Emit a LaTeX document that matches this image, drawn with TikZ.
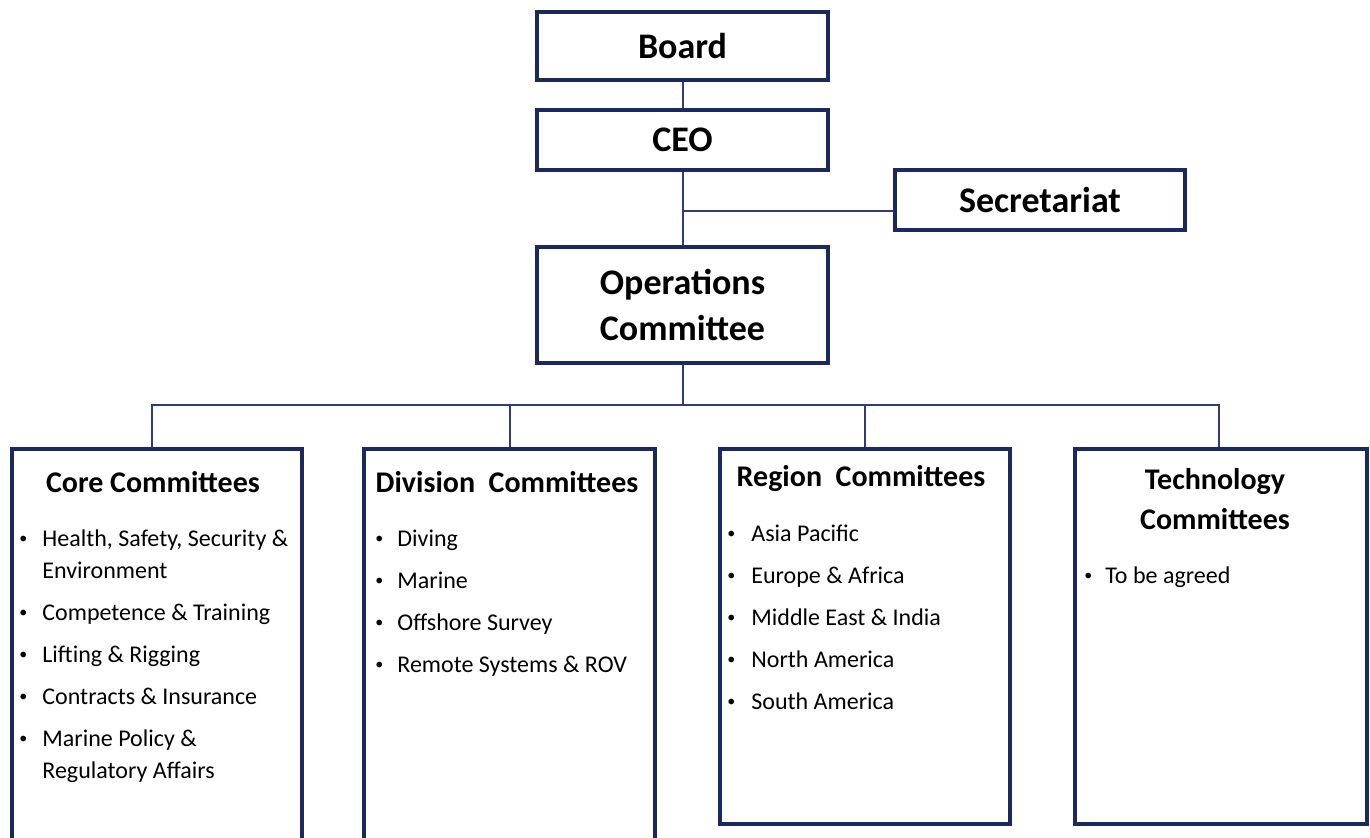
\documentclass[tikz,border=0pt]{standalone}
\usepackage{fontspec}
\setmainfont{Carlito}
\usetikzlibrary{positioning,shadows}
\definecolor{navy}{HTML}{1B2A5E}
\definecolor{wire}{HTML}{2E3E72}
\newcommand{\bul}{\raisebox{1.5pt}{\fontsize{8}{8}\selectfont•}}
\tikzset{
  box/.style={
    rectangle,
    draw=navy,
    line width=2pt,
    fill=white,
    drop shadow={shadow xshift=0.8pt, shadow yshift=-0.8pt, opacity=0.25, fill=black},
    align=center,
    inner sep=0pt
  },
  headbox/.style={
    box,
    minimum width=145.5pt,
    minimum height=30pt,
    font=\bfseries\fontsize{18}{23}\selectfont
  },
  panel/.style={
    box,
    anchor=north west,
    minimum width=145pt
  },
  paneltitle/.style={
    font=\bfseries\fontsize{15}{20}\selectfont,
    align=center,
    inner sep=0pt
  },
  itemlist/.style={
    font=\fontsize{12}{16}\selectfont,
    anchor=base west,
    inner sep=0pt
  },
  link/.style={
    draw=wire,
    line width=1pt
  }
}

\begin{document}
\begin{tikzpicture}[x=0.5pt,y=-0.5pt]
  \clip (0,0) rectangle (1370,837);

  % top of the chart
  \node[headbox, minimum height=34pt] (board) at (682.5,46) {Board};
  \node[headbox] (ceo) at (682.5,140) {CEO};
  \node[headbox, minimum width=145pt] (secretariat) at (1040,200) {Secretariat};
  \node[headbox, minimum height=58pt] (ops) at (682.5,305) {Operations\\Committee};

  \draw[link] (board.south) -- (ceo.north);
  \draw[link] (ceo.south) -- (ops.north);
  \coordinate (sec-in) at ([yshift=-5.5pt]secretariat.west);
  \draw[link] (sec-in) -- (sec-in -| ceo.south);

  % committee panels
  \node[panel, minimum height=210pt] (core) at (10,447) {};
  \node[panel, minimum height=210pt, minimum width=145.5pt] (division) at (362,447) {};
  \node[panel, minimum height=187.5pt] (region) at (718,447) {};
  \node[panel, minimum height=187.5pt, minimum width=146pt] (tech) at (1073,447) {};

  \coordinate (split) at (684,405);
  \draw[link] (ops.south) -- (ops.south |- split);
  \draw[link] ([xshift=-2.5pt]core.north) |- (split) -| ([xshift=-1pt]tech.north);
  \draw[link] (division.north) -- (division.north |- split);
  \draw[link] (region.north) -- (region.north |- split);

  \node[paneltitle, anchor=base] (core-title) at (153,492) {Core Committees};
  \node[paneltitle, anchor=base] (division-title) at (507,492) {Division\ \ Committees};
  \node[paneltitle, anchor=base] (region-title) at (861,486) {Region\ \ Committees};
  \node[paneltitle] (tech-title) at (1215,499) {Technology\\Committees};

  \node[itemlist] (core-list) at (19,546) {\begin{tabular}[t]{@{}p{11.5pt}@{}l@{}}
    \bul & Health, Safety, Security \&\\
         & Environment\\[5pt]
    \bul & Competence \& Training\\[5pt]
    \bul & Lifting \& Rigging\\[5pt]
    \bul & Contracts \& Insurance\\[5pt]
    \bul & Marine Policy \&\\
         & Regulatory Affairs
  \end{tabular}};

  \node[itemlist] (division-list) at (375,546) {\begin{tabular}[t]{@{}p{11pt}@{}l@{}}
    \bul & Diving\\[5pt]
    \bul & Marine\\[5pt]
    \bul & Offshore Survey\\[5pt]
    \bul & Remote Systems \& ROV
  \end{tabular}};

  \node[itemlist] (region-list) at (727,541) {\begin{tabular}[t]{@{}p{12pt}@{}l@{}}
    \bul & Asia Pacific\\[5pt]
    \bul & Europe \& Africa\\[5pt]
    \bul & Middle East \& India\\[5pt]
    \bul & North America\\[5pt]
    \bul & South America
  \end{tabular}};

  \node[itemlist] (tech-list) at (1084,583) {\begin{tabular}[t]{@{}p{10.5pt}@{}l@{}}
    \bul & To be agreed
  \end{tabular}};
\end{tikzpicture}
\end{document}
